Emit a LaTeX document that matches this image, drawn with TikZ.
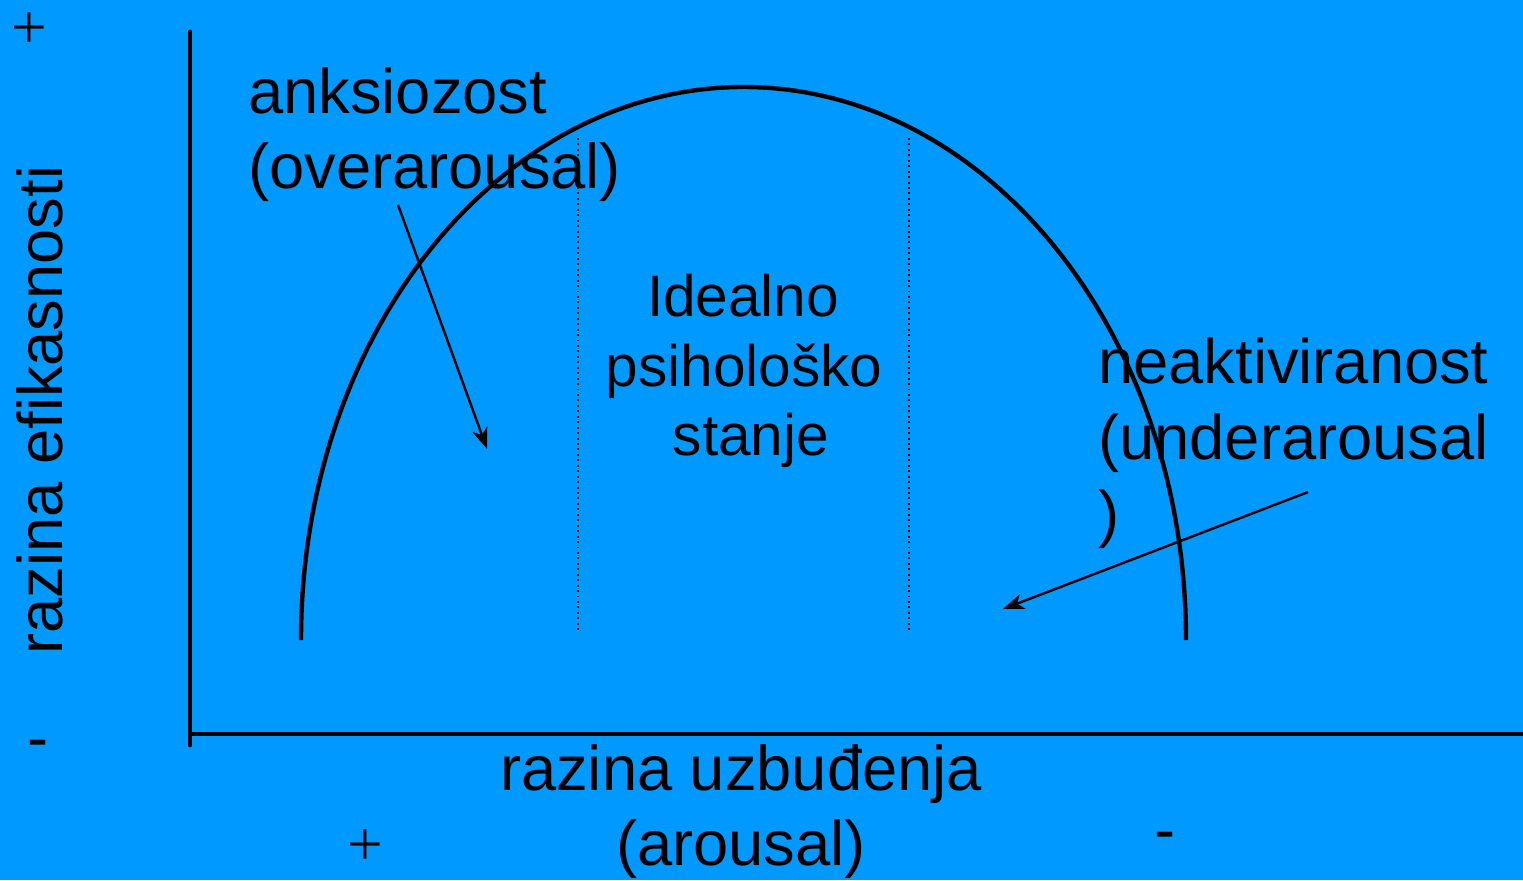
\documentclass[tikz,border=0pt]{standalone}
\usepackage{fontspec}
\setmainfont{Liberation Sans}
\newfontfamily\plusfont{Liberation Serif}
\usetikzlibrary{arrows.meta}
\definecolor{bgblue}{RGB}{0,153,255}
\tikzset{
  lbl/.style={inner sep=0pt, font=\fontsize{36}{42}\selectfont},
  midlbl/.style={inner sep=0pt, font=\fontsize{33.3}{40}\selectfont},
  sign/.style={inner sep=0pt, font=\fontsize{36}{42}\selectfont},
  axis/.style={line width=2.8pt, line cap=round},
  curve/.style={line width=2.5pt},
  divider/.style={line width=1.1pt, dash pattern=on 1.1pt off 2pt},
  pointer/.style={line width=1.4pt, -{Stealth[length=12pt, width=9pt, inset=3.5pt]}}
}
\begin{document}
\begin{tikzpicture}[x=0.02cm, y=-0.02cm]
\fill[bgblue] (0,0) rectangle (1523,880);
\useasboundingbox (0,0) rectangle (1523,880);

% axes
\coordinate (ytop) at (190,32);
\coordinate (ybot) at (190,745);
\coordinate (xleft) at (190,734);
\coordinate (xright) at (1523,734);
\draw[axis] (ytop) -- (ybot);
\draw[axis, line cap=butt] (xleft) -- (xright);

% curve
\coordinate (cstart) at (301,640);
\draw[curve] (cstart) arc[start angle=180, end angle=360, x radius=442.5, y radius=553];

% dotted dividers
\coordinate (d1t) at (578,138);
\coordinate (d1b) at (578,630);
\coordinate (d2t) at (909,138);
\coordinate (d2b) at (909,630);
\draw[divider] (d1t) -- (d1b);
\draw[divider] (d2t) -- (d2b);

% texts
\node[lbl, anchor=base west] (anx1) at (248,113) {anksiozost};
\node[lbl, anchor=base west] (anx2) at (248,188) {(overarousal)};
\node[midlbl, anchor=base] (id1) at (743,316) {Idealno};
\node[midlbl, anchor=base] (id2) at (744,386) {psihološko};
\node[midlbl, anchor=base] (id3) at (751,455) {stanje};
\node[lbl, anchor=base west] (ne1) at (1098,383) {neaktiviranost};
\node[lbl, anchor=base west] (ne2) at (1098,459) {(underarousal};
\node[lbl, anchor=base west] (ne3) at (1098,535) {)};
\node[lbl, anchor=base] (xl1) at (741,790) {razina uzbuđenja};
\node[lbl, anchor=base] (xl2) at (741,865) {(arousal)};
\node[lbl, anchor=base, rotate=90] (yl) at (62,410) {razina efikasnosti};

% signs
\node[sign, font=\fontsize{36}{42}\plusfont] (p1) at (29.5,31) {+};
\node[sign, font=\fontsize{36}{42}\plusfont] (p2) at (365.5,848) {+};
\node[sign] (m1) at (38,750) {-};
\node[sign] (m2) at (1165,842) {-};

% pointers
\coordinate (a1s) at (398,205);
\coordinate (a1e) at (487,449);
\coordinate (a2s) at (1308,492);
\coordinate (a2e) at (1003,609);
\draw[pointer] (a1s) -- (a1e);
\draw[pointer] (a2s) -- (a2e);
\end{tikzpicture}
\end{document}
